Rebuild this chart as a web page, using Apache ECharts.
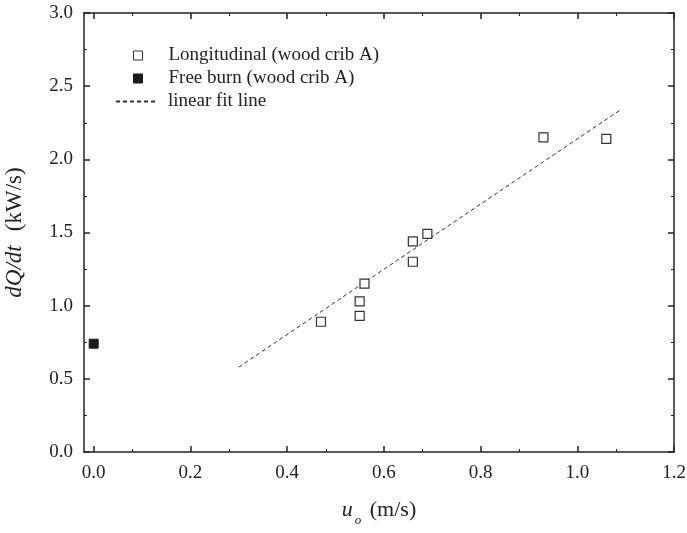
<!DOCTYPE html>
<html>
<head>
<meta charset="utf-8">
<script src="https://cdn.jsdelivr.net/npm/echarts@6/dist/echarts.min.js"></script>
<style>
  html, body { margin: 0; padding: 0; background: #fff; }
  #chart { width: 687px; height: 533px; }
</style>
</head>
<body>
<div id="chart"></div>
<script>
// data
var longX = [0.47, 0.55, 0.55, 0.56, 0.66, 0.66, 0.69, 0.93, 1.06];
var longY = [0.89, 1.03, 0.93, 1.15, 1.44, 1.30, 1.49, 2.15, 2.14];
var freeX = [0.0];
var freeY = [0.74];
var fitX = [0.30, 1.09];
var fitY = [0.58, 2.34];

var xTicks = [0.0, 0.2, 0.4, 0.6, 0.8, 1.0, 1.2];

function pairs(xs, ys) {
  return xs.map(function (x, i) { return [x, ys[i]]; });
}

var font = '"Liberation Serif", "Times New Roman", serif';
var ink = '#222';

var chart = echarts.init(document.getElementById('chart'));

function axisBase(extra) {
  var a = {
    type: 'value',
    axisLine: { show: true, onZero: false, lineStyle: { color: ink, width: 1.5 } },
    axisTick: { show: true, inside: true, length: 6, lineStyle: { color: ink, width: 1.5 } },
    minorTick: { show: true, splitNumber: 2, length: 3, lineStyle: { color: ink, width: 1 } },
    splitLine: { show: false },
    axisLabel: { color: ink, fontFamily: font, fontSize: 19 }
  };
  for (var k in extra) a[k] = extra[k];
  return a;
}

var legendText = { fontFamily: font, fontSize: 19, color: ink };

chart.setOption({
  animation: false,
  backgroundColor: '#fff',
  textStyle: { fontFamily: font },
  grid: { left: 84, right: 13, top: 13, bottom: 81, containLabel: false, outerBoundsMode: 'none' },
  legend: [
    {
      orient: 'vertical',
      left: 133,
      top: 46,
      padding: 0,
      itemWidth: 9,
      itemHeight: 9,
      itemGap: 4,
      textStyle: Object.assign({ padding: [0, 0, 0, 21] }, legendText),
      data: [
        { name: 'Longitudinal (wood crib A)', icon: 'rect',
          itemStyle: { color: '#fff', borderColor: '#333', borderWidth: 1 } },
        { name: 'Free burn (wood crib A)', icon: 'rect',
          itemStyle: { color: '#1a1a1a', borderColor: '#1a1a1a', borderWidth: 1 } }
      ]
    },
    {
      orient: 'vertical',
      left: 115,
      top: 92,
      padding: 0,
      itemWidth: 42,
      itemHeight: 10,
      textStyle: Object.assign({ padding: [0, 0, 0, 5] }, legendText),
      data: [
        { name: 'linear fit line',
          itemStyle: { color: 'rgba(0,0,0,0)', borderWidth: 0, opacity: 0 } }
      ]
    }
  ],
  xAxis: [
    axisBase({
      min: -0.02, max: 1.2, interval: 0.2,
      axisLabel: {
        color: ink, fontFamily: font, fontSize: 19, margin: 12,
        customValues: xTicks,
        formatter: function (v) { return v.toFixed(1); }
      },
      axisTick: { show: true, inside: true, length: 6, customValues: xTicks, lineStyle: { color: ink, width: 1.5 } },
      name: '{i|u}{s|o} (m/s)',
      nameLocation: 'middle',
      nameGap: 42,
      nameTextStyle: {
        fontFamily: font, fontSize: 22, color: ink,
        rich: {
          i: { fontFamily: font, fontSize: 22, fontStyle: 'italic', color: ink },
          s: { fontFamily: font, fontSize: 13, fontStyle: 'italic', color: ink, padding: [20, 3, 0, 2] }
        }
      }
    }),
    axisBase({
      position: 'top',
      min: -0.02, max: 1.2, interval: 0.2,
      axisLabel: { show: false, customValues: xTicks },
      axisTick: { show: true, inside: true, length: 6, customValues: xTicks, lineStyle: { color: ink, width: 1.5 } }
    })
  ],
  yAxis: [
    axisBase({
      min: 0, max: 3.0, interval: 0.5,
      axisLabel: {
        color: ink, fontFamily: font, fontSize: 19, margin: 11,
        formatter: function (v) { return v.toFixed(1); }
      },
      name: '{i|dQ/dt}(kW/s)',
      nameLocation: 'middle',
      nameGap: 58,
      nameTextStyle: {
        fontFamily: font, fontSize: 23, color: ink,
        rich: {
          i: { fontFamily: font, fontSize: 23, fontStyle: 'italic', color: ink, padding: [0, 14, 0, 0] }
        }
      }
    }),
    axisBase({
      position: 'right',
      min: 0, max: 3.0, interval: 0.5,
      axisLabel: { show: false }
    })
  ],
  series: [
    {
      name: 'Longitudinal (wood crib A)',
      type: 'scatter',
      symbol: 'rect',
      symbolSize: 9,
      itemStyle: { color: '#fff', borderColor: '#333', borderWidth: 1.2, opacity: 1 },
      data: pairs(longX, longY),
      z: 3
    },
    {
      name: 'Free burn (wood crib A)',
      type: 'scatter',
      symbol: 'rect',
      symbolSize: 9,
      itemStyle: { color: '#1a1a1a', borderColor: '#1a1a1a', borderWidth: 1, opacity: 1 },
      data: pairs(freeX, freeY),
      z: 3
    },
    {
      name: 'linear fit line',
      type: 'line',
      showSymbol: false,
      symbol: 'none',
      lineStyle: { color: '#333', width: 1, type: [4, 3] },
      itemStyle: { color: '#333' },
      data: pairs(fitX, fitY),
      z: 2
    }
  ]
});
</script>
</body>
</html>
